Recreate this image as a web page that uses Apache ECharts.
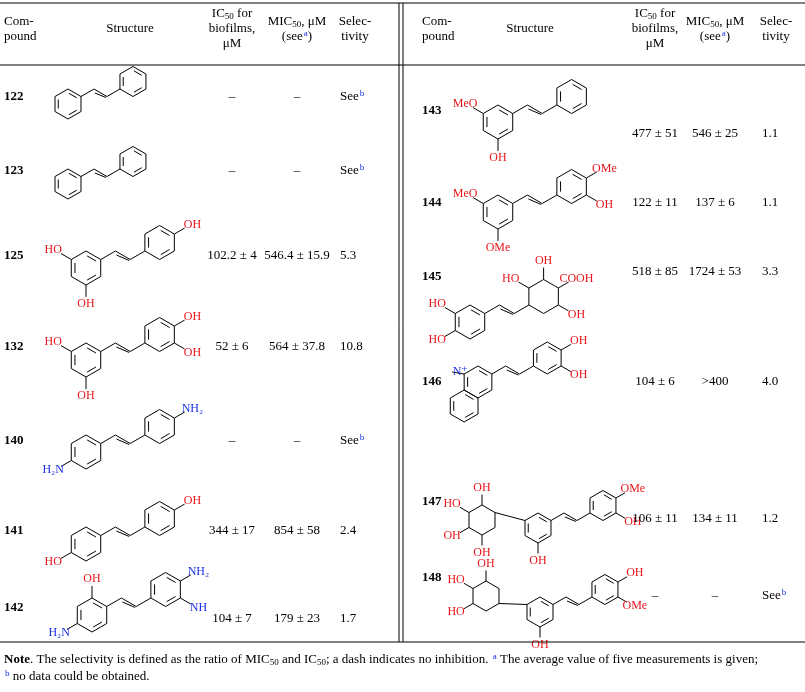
<!DOCTYPE html>
<html>
<head>
<meta charset="utf-8">
<script src="https://cdn.jsdelivr.net/npm/echarts@6/dist/echarts.min.js"></script>
<style>html,body{margin:0;background:#fff}#c{width:805px;height:692px}</style>
</head>
<body>
<div id="c"></div>
<script>
// table data
var leftIds = ['122', '123', '125', '132', '140', '141', '142'];
var leftIc = ['–', '–', '102.2 ± 4', '52 ± 6', '–', '344 ± 17', '104 ± 7'];
var leftMic = ['–', '–', '546.4 ± 15.9', '564 ± 37.8', '–', '854 ± 58', '179 ± 23'];
var leftSel = ['See{s|b}', 'See{s|b}', '5.3', '10.8', 'See{s|b}', '2.4', '1.7'];
var rightIds = ['143', '144', '145', '146', '147', '148'];
var rightIc = ['477 ± 51', '122 ± 11', '518 ± 85', '104 ± 6', '106 ± 11', '–'];
var rightMic = ['546 ± 25', '137 ± 6', '1724 ± 53', '>400', '134 ± 11', '–'];
var rightSel = ['1.1', '1.1', '3.3', '4.0', '1.2', 'See{s|b}'];

// row positions (layout)
var leftIdY = [97, 171, 256, 347, 441, 531, 608];
var leftValY = [97, 171, 256, 347, 441, 531, 619];
var rightIdY = [111, 203, 277, 382, 502, 578];
var rightValY = [134, 203, 272, 382, 519, 596];

var RED = '#e8141b', BLUE = '#1a2ee8';
var FONT = '"Liberation Serif", "DejaVu Serif", serif';
var g = [];
var rich = {
  s: {fontSize: 9, verticalAlign: 'top', fill: BLUE, padding: [0, 0, 6, 1], fontFamily: FONT},
  sub: {fontSize: 9, padding: [6, 0, 0, 0], fontFamily: FONT},
  b: {fontWeight: 'bold', fontSize: 13, fontFamily: FONT}
};

function txt(x, y, t, opt) {
  opt = opt || {};
  g.push({type: 'text', style: {x: x, y: y, text: t, fill: opt.fill || '#000',
    font: (opt.bold ? 'bold ' : '') + (opt.size || 13) + 'px ' + FONT,
    align: opt.align || 'center', verticalAlign: 'middle', lineHeight: 15, rich: rich}});
}
function line(pts, w) {
  g.push({type: 'polyline', shape: {points: pts}, style: {stroke: '#000', lineWidth: w || 1, fill: null}});
}
function d(a) { return [Math.cos(a * Math.PI / 180), Math.sin(a * Math.PI / 180)]; }
function hex(cx, cy, r) {
  var p = [];
  for (var i = 0; i < 6; i++) { var u = d(i * 60 - 90); p.push([cx + r * u[0], cy + r * u[1]]); }
  return p;
}
function ring(cx, cy, r, arom, subs) {
  var p = hex(cx, cy, r);
  line(p.concat([p[0]]));
  if (arom) {
    [[0, 1], [2, 3], [4, 5]].forEach(function (e) {
      var s = function (q) { return [cx + (q[0] - cx) * 0.75, cy + (q[1] - cy) * 0.75]; };
      var A = s(p[e[0]]), B = s(p[e[1]]);
      line([[A[0] + (B[0] - A[0]) * 0.1, A[1] + (B[1] - A[1]) * 0.1], [B[0] - (B[0] - A[0]) * 0.1, B[1] - (B[1] - A[1]) * 0.1]]);
    });
  }
  (subs || []).forEach(function (s) {
    var v = p[s[0]], u = [(v[0] - cx) / r, (v[1] - cy) / r];
    var e = [v[0] + u[0] * r * 0.7, v[1] + u[1] * r * 0.7];
    line([v, e]);
    txt(e[0] + u[0] * 9, e[1] + u[1] * 7, s[1], {fill: s[2] || RED, size: 12});
  });
  return p;
}
function stil(x, y, r, subsA, subsB, aromB) {
  var pa = ring(x, y, r, true, subsA);
  var v1 = pa[1];
  var p1 = [v1[0] + r * d(-30)[0], v1[1] + r * d(-30)[1]];
  var p2 = [p1[0] + r * d(30)[0], p1[1] + r * d(30)[1]];
  var p3 = [p2[0] + r * d(-30)[0], p2[1] + r * d(-30)[1]];
  line([v1, p1, p2, p3]);
  line([[p1[0] + 1, p1[1] + 4], [p2[0] - 1, p2[1] + 1]]);
  var bc = [p3[0] + r * d(-30)[0], p3[1] + r * d(-30)[1]];
  ring(bc[0], bc[1], r, aromB !== false, subsB);
  return pa;
}

// structures (left)
stil(68, 104, 15, [], []);
stil(68, 184, 15, [], []);
stil(86, 268, 17, [[5, 'HO'], [3, 'OH']], [[1, 'OH']]);
stil(86, 360, 17, [[5, 'HO'], [3, 'OH']], [[1, 'OH'], [2, 'OH']]);
stil(86, 452, 17, [[4, 'H₂N', BLUE]], [[1, 'NH₂', BLUE]]);
stil(86, 544, 17, [[4, 'HO']], [[1, 'OH']]);
stil(92, 615, 17, [[0, 'OH'], [4, 'H₂N', BLUE]], [[1, 'NH₂', BLUE], [2, 'NH', BLUE]]);
// structures (right)
stil(498, 122, 17, [[5, 'MeO'], [3, 'OH']], []);
stil(498, 212, 17, [[5, 'MeO'], [3, 'OMe']], [[1, 'OMe'], [2, 'OH']]);
stil(470, 322, 17, [[4, 'HO'], [5, 'HO']], [[0, 'OH'], [5, 'HO'], [2, 'OH'], [1, 'COOH']], false);
// 146: quinolinium + catechol
var q = stil(478, 382, 16, [], [[1, 'OH'], [2, 'OH']]);
ring(478 + 27.7 * d(120)[0], 382 + 27.7 * d(120)[1], 16, true, []);
line([q[5], [q[5][0] - 12, q[5][1] - 2]]);
txt(q[5][0] - 4, q[5][1] - 2, 'N⁺', {fill: BLUE, size: 12});
// 147: glycoside
var a147 = stil(538, 528, 15, [[3, 'OH']], [[1, 'OMe'], [2, 'OH']]);
var s147 = ring(482, 520, 15, false, [[5, 'HO'], [3, 'OH'], [4, 'OH'], [0, 'OH']]);
line([s147[1], a147[5]]);
// 148: cyclohexyl
var a148 = stil(540, 612, 15, [[3, 'OH']], [[1, 'OH'], [2, 'OMe']]);
var s148 = ring(486, 596, 15, false, [[5, 'HO'], [0, 'OH'], [4, 'HO']]);
line([s148[2], a148[5]]);

// rules
line([[0, 3], [805, 3]], 1);
line([[0, 65], [805, 65]], 1);
line([[0, 642], [805, 642]], 1);
line([[399, 3], [399, 642]], 1);
line([[403, 3], [403, 642]], 1);

// headers
[[0, 35, 130, 232, 297, 355], [418, 448, 530, 655, 715, 776]].forEach(function (c) {
  txt(c[0] + 4, 29, 'Com-\npound', {align: 'left'});
  txt(c[2], 29, 'Structure');
  txt(c[3], 29, 'IC{sub|50} for\nbiofilms,\nμM');
  txt(c[4], 29, 'MIC{sub|50}, μM\n(see{s|a})');
  txt(c[5], 29, 'Selec-\ntivity');
});

leftIds.forEach(function (id, i) {
  txt(4, leftIdY[i], id, {bold: true, align: 'left'});
  txt(232, leftValY[i], leftIc[i]);
  txt(297, leftValY[i], leftMic[i]);
  txt(340, leftValY[i], leftSel[i], {align: 'left'});
});
rightIds.forEach(function (id, i) {
  txt(422, rightIdY[i], id, {bold: true, align: 'left'});
  txt(655, rightValY[i], rightIc[i]);
  txt(715, rightValY[i], rightMic[i]);
  txt(762, rightValY[i], rightSel[i], {align: 'left'});
});

txt(4, 660, '{b|Note}. The selectivity is defined as the ratio of MIC{sub|50} and IC{sub|50}; a dash indicates no inhibition. {s|a} The average value of five measurements is given;', {align: 'left'});
txt(4, 677, '{s|b} no data could be obtained.', {align: 'left'});

var chart = echarts.init(document.getElementById('c'));
chart.setOption({animation: false, graphic: g});
</script>
</body>
</html>
